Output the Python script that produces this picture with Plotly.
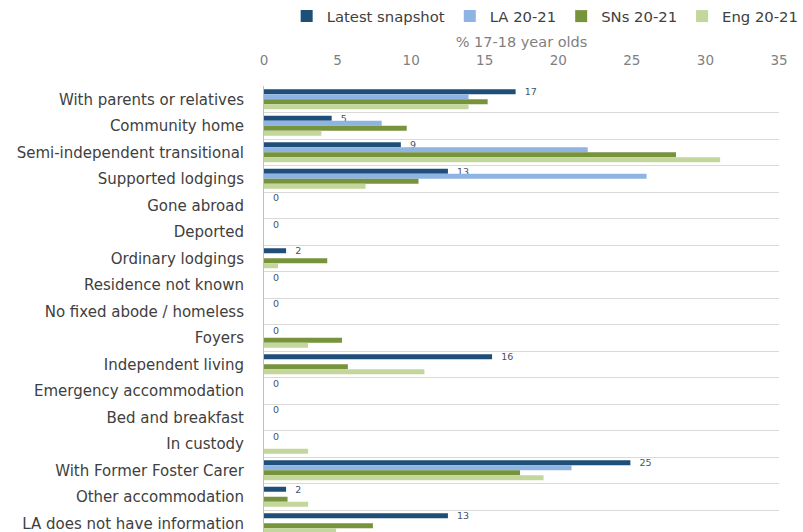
import plotly.graph_objects as go

categories = [
    "With parents or relatives", "Community home", "Semi-independent transitional",
    "Supported lodgings", "Gone abroad", "Deported", "Ordinary lodgings",
    "Residence not known", "No fixed abode / homeless", "Foyers",
    "Independent living", "Emergency accommodation", "Bed and breakfast",
    "In custody", "With Former Foster Carer", "Other accommodation",
    "LA does not have information",
]
latest = [17.1, 4.6, 9.3, 12.5, 0, 0, 1.5, 0, 0, 0, 15.5, 0, 0, 0, 24.9, 1.5, 12.5]
latest_labels = ["17", "5", "9", "13", "0", "0", "2", "0", "0", "0", "16", "0", "0", "0", "25", "2", "13"]
la = [13.9, 8.0, 22.0, 26.0, 0, 0, 0, 0, 0, 0, 0, 0, 0, 0, 20.9, 0, 0]
sns = [15.2, 9.7, 28.0, 10.5, 0, 0, 4.3, 0, 0, 5.3, 5.7, 0, 0, 0, 17.4, 1.6, 7.4]
eng = [13.9, 3.9, 31.0, 6.9, 0, 0, 0.95, 0, 0, 3.0, 10.9, 0, 0, 3.0, 19.0, 3.0, 4.9]
series_names = ["Latest snapshot", "LA 20-21", "SNs 20-21", "Eng 20-21"]
x_ticks = [0, 5, 10, 15, 20, 25, 30, 35]

colors = ["#1F4E79", "#8EB4E3", "#77933C", "#C3D69B"]
ypos = list(range(len(categories)))
FONT = "DejaVu Sans"

fig = go.Figure()
for name, vals, col in zip(series_names, [latest, la, sns, eng], colors):
    kw = {}
    if name == "Latest snapshot":
        kw = dict(text=["   " + t for t in latest_labels], textposition="outside",
                  textfont=dict(size=9.5, color="#44546A", family=FONT),
                  constraintext="none", cliponaxis=False)
    fig.add_trace(go.Bar(y=ypos, x=vals, name=name, orientation="h",
                         marker=dict(color=col, line=dict(width=0)), **kw))

fig.update_layout(
    width=803, height=532,
    margin=dict(l=264, r=24, t=86, b=0),
    barmode="group", bargap=0.245, bargroupgap=0,
    plot_bgcolor="white", paper_bgcolor="white",
    font=dict(family=FONT, color="#404040"),
    showlegend=True,
    legend=dict(orientation="h", xref="container", yref="container",
                x=0.357, y=1.0, xanchor="left", yanchor="top",
                font=dict(size=14.8, color="#404040", family=FONT), traceorder="normal",
                itemwidth=30, bgcolor="rgba(0,0,0,0)"),
    xaxis=dict(side="top", range=[0, 35], tickvals=x_ticks,
               showgrid=False, zeroline=False, showline=False,
               tickfont=dict(size=13.5, color="#7F7F7F"),
               ticks="", ticklabelstandoff=17,
               title=dict(text="% 17-18 year olds", font=dict(size=14.5, color="#7F7F7F"), standoff=1)),
    yaxis=dict(range=[16.33, -0.5], tickvals=ypos, ticktext=categories,
               showgrid=False, zeroline=False,
               showline=True, linecolor="#BFBFBF", linewidth=1,
               tickfont=dict(size=15, color="#404040"),
               ticks="", ticklabelstandoff=16, ticklabeloverflow="allow",
               minor=dict(tickvals=[k - 0.5 for k in range(18)], showgrid=True,
                          gridcolor="#D9D9D9", gridwidth=1, ticks="")),
)

fig.write_html("out.html", config={"displayModeBar": False},
               post_script="document.body.style.margin='0px';")
